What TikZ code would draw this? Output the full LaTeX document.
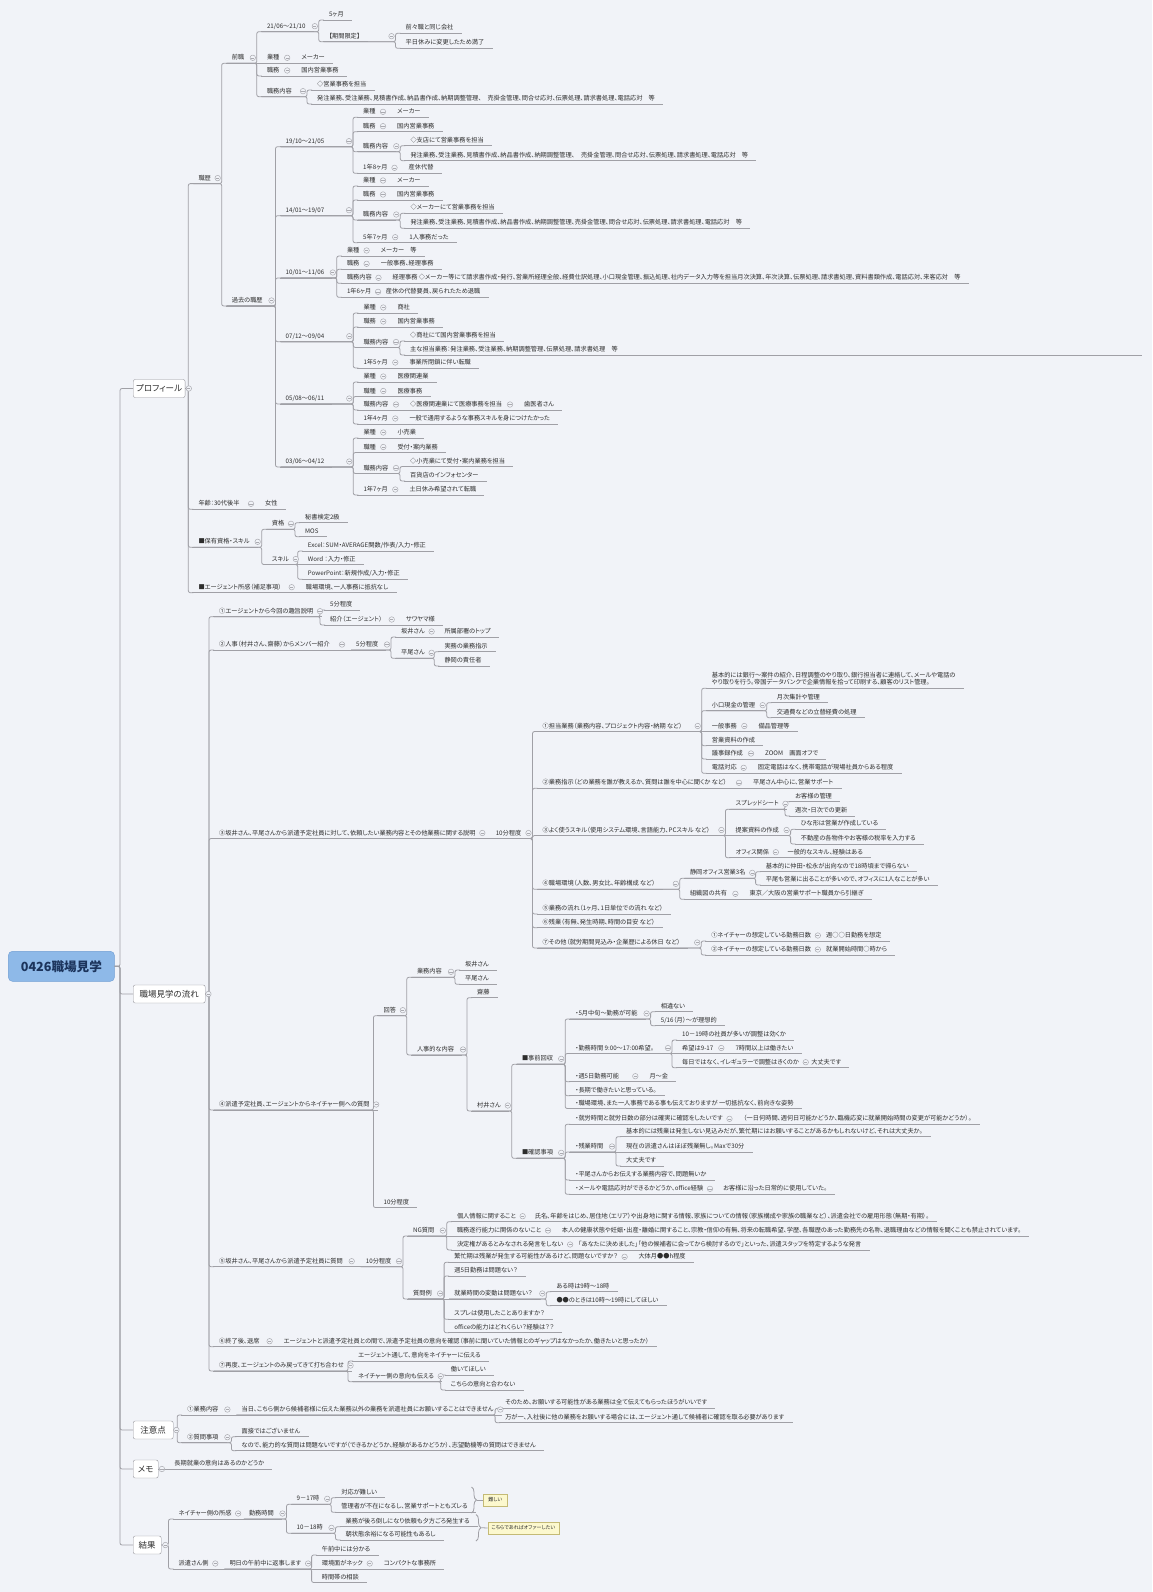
\documentclass[tikz,border=0pt]{standalone}
\usepackage{fontspec}
\setmainfont{Noto Sans CJK JP}[RawFeature=+palt]
\usetikzlibrary{calc,decorations.pathreplacing}

\definecolor{bgc}{RGB}{241,243,248}
\definecolor{linec}{RGB}{160,160,166}
\definecolor{textc}{RGB}{45,45,45}
\definecolor{boxc}{RGB}{150,150,156}
\definecolor{togc}{RGB}{170,170,176}
\definecolor{rootfill}{RGB}{142,185,232}
\definecolor{rootdraw}{RGB}{112,158,212}
\definecolor{roottext}{RGB}{28,52,92}
\definecolor{notefill}{RGB}{252,248,206}
\definecolor{notedraw}{RGB}{196,186,118}

% topic with underline
\newcommand{\mmnode}[5][]{\node[item,#1] (#2) at (#3,#4) {#5};
  \draw[uline] ([xshift=-6pt]#2.south west) -- ([xshift=8pt]#2.south east);}
% elbow link parent -> child
\newcommand{\mmlink}[2]{\draw[conn] ([xshift=-5pt]#1.south west) -| ([xshift=-10pt]#2.south west) -- ([xshift=-5pt]#2.south west);}
% straight link (same line)
\newcommand{\mmline}[2]{\draw[conn] ([xshift=-5pt]#1.south west) -- ([xshift=-5pt]#2.south west);}
% collapse mark, just before the children, never on the text
\newcommand{\mmtog}[2]{\path let \p1=(#1.south east), \p2=(#2.south west) in node[tog] at ({max(\x1+6.5pt,\x2-14pt)},{\y1+5.5pt}) {};}
% main topic box -> child
\newcommand{\mmbox}[2]{\draw[conn] (#1.east) -| ([xshift=-10pt]#2.south west) -- ([xshift=-5pt]#2.south west);}

\begin{document}
\begin{tikzpicture}[x=1pt, y=-1pt,
    item/.style={anchor=south west, inner xsep=0pt, inner ysep=2.2pt, text height=5pt, text depth=1pt, font=\fontsize{6.2}{7.7}\selectfont, text=textc},
    uline/.style={draw=linec, line width=0.8pt},
    conn/.style={draw=linec, line width=0.8pt, rounded corners=2pt},
    topic/.style={anchor=west, draw=boxc, fill=white, rounded corners=2pt, minimum height=18pt, inner xsep=3pt, font=\fontsize{8.5}{10}\selectfont, text=textc},
    root/.style={draw=rootdraw, fill=rootfill, rounded corners=4pt, minimum width=106pt, minimum height=30pt, font=\fontsize{12.6}{14}\selectfont\bfseries, text=roottext},
    tog/.style={circle, draw=togc, fill=bgc, line width=0.5pt, minimum size=5.5pt, inner sep=0pt,
        path picture={\draw[togc, line width=0.5pt] ([xshift=-1.6pt]path picture bounding box.center) -- ([xshift=1.6pt]path picture bounding box.center);}},
    sumbox/.style={draw=notedraw, fill=notefill, font=\fontsize{5}{6}\selectfont, text=textc, minimum height=12pt, inner xsep=2pt},
    brace/.style={decorate, decoration={brace, amplitude=5pt}, draw=linec, line width=0.8pt}
]
\fill[bgc] (0,0) rectangle (1152,1592);
\useasboundingbox (0,0) rectangle (1152,1592);

% root and main topics
\node[root] (root) at (61.4,966.3) {0426職場見学};
\node[topic, minimum width=49pt] (prof) at (133,388.5) {プロフィール};
\node[topic, minimum width=72pt] (flow) at (133,994) {職場見学の流れ};
\node[topic, minimum width=40pt] (note) at (133,1430) {注意点};
\node[topic, minimum width=25pt] (memo) at (133,1469) {メモ};
\node[topic, minimum width=28pt] (result) at (133,1545) {結果};
\draw[conn] (root.east) -| ([xshift=-13pt]prof.west) -- (prof.west);
\draw[conn] (root.east) -| ([xshift=-13pt]flow.west) -- (flow.west);
\draw[conn] (root.east) -| ([xshift=-13pt]note.west) -- (note.west);
\draw[conn] (root.east) -| ([xshift=-13pt]memo.west) -- (memo.west);
\draw[conn] (root.east) -| ([xshift=-13pt]result.west) -- (result.west);

% ---- profile
\mmnode{career}{198.3}{183.6}{職歴}
\mmnode{age}{198.3}{509.3}{年齢：30代後半}
\mmnode{skill}{198.3}{547.3}{■保有資格・スキル}
\mmnode{agent}{198.3}{592.7}{■エージェント所感（補足事項）}
\mmbox{prof}{career}\mmbox{prof}{age}\mmbox{prof}{skill}\mmbox{prof}{agent}

\mmnode{prev}{231.7}{63.3}{前職}
\mmnode{past}{231.7}{306}{過去の職歴}
\mmlink{career}{prev}\mmlink{career}{past}\mmtog{career}{prev}

% previous job
\mmnode{pvTerm}{266.8}{31.7}{21/06～21/10}
\mmnode{pvInd}{266.8}{63.3}{業種}
\mmnode{pvRole}{266.8}{76}{職務}
\mmnode{pvWork}{266.8}{96.7}{職務内容}
\mmlink{prev}{pvTerm}\mmline{prev}{pvInd}\mmlink{prev}{pvRole}\mmlink{prev}{pvWork}\mmtog{prev}{pvTerm}
\mmnode{pvLen}{328.8}{20}{5ヶ月}
\mmnode{pvLtd}{328.8}{41.7}{【期間限定】}
\mmlink{pvTerm}{pvLen}\mmlink{pvTerm}{pvLtd}\mmtog{pvTerm}{pvLen}
\mmnode{pvLtdA}{405.5}{33.3}{前々職と同じ会社}
\mmnode{pvLtdB}{405.5}{48.3}{平日休みに変更したため満了}
\mmlink{pvLtd}{pvLtdA}\mmlink{pvLtd}{pvLtdB}\mmtog{pvLtd}{pvLtdA}
\mmnode{pvIndA}{301.2}{63.3}{メーカー}
\mmline{pvInd}{pvIndA}\mmtog{pvInd}{pvIndA}
\mmnode{pvRoleA}{301.2}{76}{国内営業事務}
\mmline{pvRole}{pvRoleA}\mmtog{pvRole}{pvRoleA}
\mmnode{pvWorkA}{317}{90}{◇営業事務を担当}
\mmnode{pvWorkB}{317}{104}{発注業務、受注業務、見積書作成、納品書作成、納期調整管理、　売掛金管理、問合せ応対、伝票処理、請求書処理、電話応対　等}
\mmlink{pvWork}{pvWorkA}\mmlink{pvWork}{pvWorkB}\mmtog{pvWork}{pvWorkA}

% past jobs
\mmnode{jA}{285.5}{146.7}{19/10～21/05}
\mmnode{jB}{285.5}{215.7}{14/01～19/07}
\mmnode{jC}{285.5}{278}{10/01～11/06}
\mmnode{jD}{285.5}{341.7}{07/12～09/04}
\mmnode{jE}{285.5}{404}{05/08～06/11}
\mmnode{jF}{285.5}{467}{03/06～04/12}
\mmlink{past}{jA}\mmlink{past}{jB}\mmlink{past}{jC}\mmlink{past}{jD}\mmlink{past}{jE}\mmlink{past}{jF}\mmtog{past}{jA}

\mmnode{jAind}{363}{117.3}{業種}
\mmnode{jArole}{363}{131.7}{職務}
\mmnode{jAwork}{363}{151.7}{職務内容}
\mmnode{jAlen}{363}{173.3}{1年8ヶ月}
\mmlink{jA}{jAind}\mmlink{jA}{jArole}\mmlink{jA}{jAwork}\mmlink{jA}{jAlen}\mmtog{jA}{jAind}
\mmnode{jAindA}{397}{117.3}{メーカー}\mmline{jAind}{jAindA}\mmtog{jAind}{jAindA}
\mmnode{jAroleA}{397}{131.7}{国内営業事務}\mmline{jArole}{jAroleA}\mmtog{jArole}{jAroleA}
\mmnode{jAworkA}{410.3}{145.7}{◇支店にて営業事務を担当}
\mmnode{jAworkB}{410.3}{160.7}{発注業務、受注業務、見積書作成、納品書作成、納期調整管理、　売掛金管理、問合せ応対、伝票処理、請求書処理、電話応対　等}
\mmlink{jAwork}{jAworkA}\mmlink{jAwork}{jAworkB}\mmtog{jAwork}{jAworkA}
\mmnode{jAlenA}{408.5}{173.3}{産休代替}\mmline{jAlen}{jAlenA}\mmtog{jAlen}{jAlenA}

\mmnode{jBind}{363}{186}{業種}
\mmnode{jBrole}{363}{200}{職務}
\mmnode{jBwork}{363}{220}{職務内容}
\mmnode{jBlen}{363}{242.7}{5年7ヶ月}
\mmlink{jB}{jBind}\mmlink{jB}{jBrole}\mmlink{jB}{jBwork}\mmlink{jB}{jBlen}\mmtog{jB}{jBind}
\mmnode{jBindA}{397}{186}{メーカー}\mmline{jBind}{jBindA}\mmtog{jBind}{jBindA}
\mmnode{jBroleA}{397}{200}{国内営業事務}\mmline{jBrole}{jBroleA}\mmtog{jBrole}{jBroleA}
\mmnode{jBworkA}{410.3}{213.3}{◇メーカーにて営業事務を担当}
\mmnode{jBworkB}{410.3}{228.3}{発注業務、受注業務、見積書作成、納品書作成、納期調整管理、売掛金管理、問合せ応対、伝票処理、請求書処理、電話応対　等}
\mmlink{jBwork}{jBworkA}\mmlink{jBwork}{jBworkB}\mmtog{jBwork}{jBworkA}
\mmnode{jBlenA}{409.2}{242.7}{1人事務だった}\mmline{jBlen}{jBlenA}\mmtog{jBlen}{jBlenA}

\mmnode{jCind}{346.8}{256}{業種}
\mmnode{jCrole}{346.8}{269.3}{職務}
\mmnode{jCwork}{346.8}{283.3}{職務内容}
\mmnode{jClen}{346.8}{297.3}{1年6ヶ月}
\mmlink{jC}{jCind}\mmlink{jC}{jCrole}\mmlink{jC}{jCwork}\mmlink{jC}{jClen}\mmtog{jC}{jCind}
\mmnode{jCindA}{380.6}{256}{メーカー　等}\mmline{jCind}{jCindA}\mmtog{jCind}{jCindA}
\mmnode{jCroleA}{380.6}{269.3}{一般事務、経理事務}\mmline{jCrole}{jCroleA}\mmtog{jCrole}{jCroleA}
\mmnode{jCworkA}{392.5}{283.3}{経理事務 ◇メーカー等にて請求書作成・発行、営業所経理全般、経費仕訳処理、小口現金管理、振込処理、社内データ入力等を担当月次決算、年次決算、伝票処理、請求書処理、資料書類作成、電話応対、来客応対　等}
\mmline{jCwork}{jCworkA}\mmtog{jCwork}{jCworkA}
\mmnode{jClenA}{385.7}{297.3}{産休の代替要員、戻られたため退職}\mmline{jClen}{jClenA}\mmtog{jClen}{jClenA}

\mmnode{jDind}{363.3}{313}{業種}
\mmnode{jDrole}{363.3}{327}{職務}
\mmnode{jDwork}{363.3}{347.5}{職務内容}
\mmnode{jDlen}{363.3}{368}{1年5ヶ月}
\mmlink{jD}{jDind}\mmlink{jD}{jDrole}\mmlink{jD}{jDwork}\mmlink{jD}{jDlen}\mmtog{jD}{jDind}
\mmnode{jDindA}{397.3}{313}{商社}\mmline{jDind}{jDindA}\mmtog{jDind}{jDindA}
\mmnode{jDroleA}{397.3}{327}{国内営業事務}\mmline{jDrole}{jDroleA}\mmtog{jDrole}{jDroleA}
\mmnode{jDworkA}{410}{341}{◇商社にて国内営業事務を担当}
\mmnode{jDworkB}{410}{355}{主な担当業務：発注業務、受注業務、納期調整管理、伝票処理、請求書処理　等}
\draw[uline] (jDworkB.south east) -- (1142,355);
\mmlink{jDwork}{jDworkA}\mmlink{jDwork}{jDworkB}\mmtog{jDwork}{jDworkA}
\mmnode{jDlenA}{409.3}{368}{事業所閉鎖に伴い転職}\mmline{jDlen}{jDlenA}\mmtog{jDlen}{jDlenA}

\mmnode{jEind}{363.3}{382}{業種}
\mmnode{jErole}{363.3}{396.5}{職種}
\mmnode{jEwork}{363.3}{410}{職務内容}
\mmnode{jElen}{363.3}{424}{1年4ヶ月}
\mmlink{jE}{jEind}\mmlink{jE}{jErole}\mmlink{jE}{jEwork}\mmlink{jE}{jElen}\mmtog{jE}{jEind}
\mmnode{jEindA}{397.3}{382}{医療関連業}\mmline{jEind}{jEindA}\mmtog{jEind}{jEindA}
\mmnode{jEroleA}{397.3}{396.5}{医療事務}\mmline{jErole}{jEroleA}\mmtog{jErole}{jEroleA}
\mmnode{jEworkA}{410}{410}{◇医療関連業にて医療事務を担当}\mmline{jEwork}{jEworkA}\mmtog{jEwork}{jEworkA}
\mmnode{jEworkAA}{524}{410}{歯医者さん}\mmline{jEworkA}{jEworkAA}\mmtog{jEworkA}{jEworkAA}
\mmnode{jElenA}{409.3}{424}{一般で通用するような事務スキルを身につけたかった}\mmline{jElen}{jElenA}\mmtog{jElen}{jElenA}

\mmnode{jFind}{363.3}{438}{業種}
\mmnode{jFrole}{363.3}{452.5}{職種}
\mmnode{jFwork}{363.3}{473.5}{職務内容}
\mmnode{jFlen}{363.3}{495}{1年7ヶ月}
\mmlink{jF}{jFind}\mmlink{jF}{jFrole}\mmlink{jF}{jFwork}\mmlink{jF}{jFlen}\mmtog{jF}{jFind}
\mmnode{jFindA}{397.3}{438}{小売業}\mmline{jFind}{jFindA}\mmtog{jFind}{jFindA}
\mmnode{jFroleA}{397.3}{452.5}{受付・案内業務}\mmline{jFrole}{jFroleA}\mmtog{jFrole}{jFroleA}
\mmnode{jFworkA}{410}{466.5}{◇小売業にて受付・案内業務を担当}
\mmnode{jFworkB}{410}{481}{百貨店のインフォセンター}
\mmlink{jFwork}{jFworkA}\mmlink{jFwork}{jFworkB}\mmtog{jFwork}{jFworkA}
\mmnode{jFlenA}{409.3}{495}{土日休み希望されて転職}\mmline{jFlen}{jFlenA}\mmtog{jFlen}{jFlenA}

% age, skills, agent
\mmnode{ageA}{265}{509.3}{女性}\mmline{age}{ageA}\mmtog{age}{ageA}
\mmnode{qual}{271.7}{529.3}{資格}
\mmnode{sk}{271.7}{564.5}{スキル}
\mmlink{skill}{qual}\mmlink{skill}{sk}\mmtog{skill}{qual}
\mmnode{qualA}{305}{522.7}{秘書検定2級}
\mmnode{qualB}{305}{536.7}{MOS}
\mmlink{qual}{qualA}\mmlink{qual}{qualB}\mmtog{qual}{qualA}
\mmnode{skA}{307.7}{551}{Excel：SUM・AVERAGE関数/作表/入力・修正}
\mmnode{skB}{307.7}{564.5}{Word ：入力・修正}
\mmnode{skC}{307.7}{579.3}{PowerPoint：新規作成/入力・修正}
\mmlink{sk}{skA}\mmline{sk}{skB}\mmlink{sk}{skC}\mmtog{sk}{skA}
\mmnode{agentA}{305.7}{592.7}{職場環境、一人事務に抵抗なし}\mmline{agent}{agentA}\mmtog{agent}{agentA}

% ---- flow of the visit
\mmnode{fIntro}{219}{616.7}{①エージェントから今回の趣旨説明}
\mmnode{fMember}{219}{650}{②人事（村井さん、齋藤）からメンバー紹介}
\mmnode{fExplain}{219}{838.5}{③坂井さん、平尾さんから派遣予定社員に対して、依頼したい業務内容とその他業務に関する説明}
\mmnode{fAnswer}{219}{1110}{④派遣予定社員、エージェントからネイチャー側への質問}
\mmnode{fAsk}{219}{1266.7}{⑤坂井さん、平尾さんから派遣予定社員に質問}
\mmnode{fEnd}{219}{1346.7}{⑥終了後、退席}
\mmnode{fMeet}{219}{1371}{⑦再度、エージェントのみ戻ってきて打ち合わせ}
\mmbox{flow}{fIntro}\mmbox{flow}{fMember}\mmbox{flow}{fExplain}\mmbox{flow}{fAnswer}\mmbox{flow}{fAsk}\mmbox{flow}{fEnd}\mmbox{flow}{fMeet}

\mmnode{fIntroA}{330}{610}{5分程度}
\mmnode{fIntroB}{330}{625}{紹介（エージェント）}
\mmlink{fIntro}{fIntroA}\mmlink{fIntro}{fIntroB}\mmtog{fIntro}{fIntroA}
\mmnode{fIntroBA}{405.7}{625}{サワヤマ様}\mmline{fIntroB}{fIntroBA}\mmtog{fIntroB}{fIntroBA}

\mmnode{fMemberA}{356}{650}{5分程度}\mmline{fMember}{fMemberA}\mmtog{fMember}{fMemberA}
\mmnode{fSakai}{401}{637}{坂井さん}
\mmnode{fHirao}{401}{658.3}{平尾さん}
\mmlink{fMemberA}{fSakai}\mmlink{fMemberA}{fHirao}\mmtog{fMemberA}{fSakai}
\mmnode{fSakaiA}{444.3}{637}{所属部署のトップ}\mmline{fSakai}{fSakaiA}\mmtog{fSakai}{fSakaiA}
\mmnode{fHiraoA}{444.3}{651.7}{実務の業務指示}
\mmnode{fHiraoB}{444.3}{666}{静岡の責任者}
\mmlink{fHirao}{fHiraoA}\mmlink{fHirao}{fHiraoB}\mmtog{fHirao}{fHiraoA}

\mmnode{fExplainA}{495.6}{838.5}{10分程度}\mmline{fExplain}{fExplainA}\mmtog{fExplain}{fExplainA}
\mmnode{gA}{542.5}{731.5}{①担当業務（業務内容、プロジェクト内容・納期 など）}
\mmnode{gB}{542.5}{788.3}{②業務指示（どの業務を誰が教えるか、質問は誰を中心に聞くか など）}
\mmnode{gC}{542.5}{835.5}{③よく使うスキル（使用システム環境、言語能力、PCスキル など）}
\mmnode{gD}{542.5}{889.3}{④職場環境（人数、男女比、年齢構成 など）}
\mmnode{gE}{542.5}{914}{⑤業務の流れ（1ヶ月、1日単位での流れ など）}
\mmnode{gF}{542.5}{927.7}{⑥残業（有無、発生時期、時間の目安 など）}
\mmnode{gG}{542.5}{948}{⑦その他（就労期間見込み・企業歴による休日 など）}
\mmlink{fExplainA}{gA}\mmlink{fExplainA}{gB}\mmlink{fExplainA}{gC}\mmlink{fExplainA}{gD}\mmlink{fExplainA}{gE}\mmlink{fExplainA}{gF}\mmlink{fExplainA}{gG}\mmtog{fExplainA}{gA}

\mmnode{gAa}{711.7}{688.3}{\begin{tabular}[b]{@{}l@{}}基本的には銀行～案件の紹介、日程調整のやり取り、銀行担当者に連絡して、メールや電話の\\やり取りを行う。帝国データバンクで企業情報を拾って印刷する、顧客のリスト管理。\end{tabular}}
\mmnode{gAb}{711.7}{710.7}{小口現金の管理}
\mmnode{gAc}{711.7}{731.5}{一般事務}
\mmnode{gAd}{711.7}{745.7}{営業資料の作成}
\mmnode{gAe}{711.7}{759}{議事録作成}
\mmnode{gAf}{711.7}{773.3}{電話対応}
\mmlink{gA}{gAa}\mmlink{gA}{gAb}\mmline{gA}{gAc}\mmlink{gA}{gAd}\mmlink{gA}{gAe}\mmlink{gA}{gAf}\mmtog{gA}{gAa}
\mmnode{gAbA}{776.7}{702.7}{月次集計や管理}
\mmnode{gAbB}{776.7}{717.7}{交通費などの立替経費の処理}
\mmlink{gAb}{gAbA}\mmlink{gAb}{gAbB}\mmtog{gAb}{gAbA}
\mmnode{gAcA}{758.3}{731.5}{備品管理等}\mmline{gAc}{gAcA}\mmtog{gAc}{gAcA}
\mmnode{gAeA}{765}{759}{ZOOM　画面オフで}\mmline{gAe}{gAeA}\mmtog{gAe}{gAeA}
\mmnode{gAfA}{757.7}{773.3}{固定電話はなく、携帯電話が現場社員からある程度}\mmline{gAf}{gAfA}\mmtog{gAf}{gAfA}

\mmnode{gBA}{753}{788.3}{平尾さん中心に、営業サポート}\mmline{gB}{gBA}\mmtog{gB}{gBA}

\mmnode{gCa}{735.4}{809.3}{スプレッドシート}
\mmnode{gCb}{735.4}{835.5}{提案資料の作成}
\mmnode{gCc}{735.4}{857.7}{オフィス関係}
\mmlink{gC}{gCa}\mmline{gC}{gCb}\mmlink{gC}{gCc}\mmtog{gC}{gCa}
\mmnode{gCaA}{795}{801.7}{お客様の管理}
\mmnode{gCaB}{795}{816}{週次・日次での更新}
\mmlink{gCa}{gCaA}\mmlink{gCa}{gCaB}\mmtog{gCa}{gCaA}
\mmnode{gCbA}{800.6}{829.3}{ひな形は営業が作成している}
\mmnode{gCbB}{800.6}{844}{不動産の各物件やお客様の税率を入力する}
\mmlink{gCb}{gCbA}\mmlink{gCb}{gCbB}\mmtog{gCb}{gCbA}
\mmnode{gCcA}{787.5}{857.7}{一般的なスキル、経験はある}\mmline{gCc}{gCcA}\mmtog{gCc}{gCcA}

\mmnode{gDa}{689.8}{878.3}{静岡オフィス営業3名}
\mmnode{gDb}{689.8}{899.3}{組織図の共有}
\mmlink{gD}{gDa}\mmlink{gD}{gDb}\mmtog{gD}{gDa}
\mmnode{gDaA}{765.6}{871.7}{基本的に仲田・松永が出向なので18時頃まで帰らない}
\mmnode{gDaB}{765.6}{885}{平尾も営業に出ることが多いので、オフィスに1人なことが多い}
\mmlink{gDa}{gDaA}\mmlink{gDa}{gDaB}\mmtog{gDa}{gDaA}
\mmnode{gDbA}{749.4}{899.3}{東京／大阪の営業サポート職員から引継ぎ}\mmline{gDb}{gDbA}\mmtog{gDb}{gDbA}

\mmnode{gGa}{711.2}{941}{①ネイチャーの想定している勤務日数}
\mmnode{gGb}{711.2}{955}{②ネイチャーの想定している勤務日数}
\mmlink{gG}{gGa}\mmlink{gG}{gGb}\mmtog{gG}{gGa}
\mmnode{gGaA}{826}{941}{週○○日勤務を想定}\mmline{gGa}{gGaA}\mmtog{gGa}{gGaA}
\mmnode{gGbA}{826}{955}{就業開始時間○時から}\mmline{gGb}{gGbA}\mmtog{gGb}{gGbA}

% questions to the company
\mmnode{hAns}{383.4}{1015.7}{回答}
\mmnode{hTime}{383.4}{1207.5}{10分程度}
\mmlink{fAnswer}{hAns}\mmlink{fAnswer}{hTime}\mmtog{fAnswer}{hAns}
\mmnode{hWork}{416.8}{977.3}{業務内容}
\mmnode{hHr}{416.8}{1055}{人事的な内容}
\mmlink{hAns}{hWork}\mmlink{hAns}{hHr}\mmtog{hAns}{hWork}
\mmnode{hWorkA}{465}{970}{坂井さん}
\mmnode{hWorkB}{465}{984.3}{平尾さん}
\mmlink{hWork}{hWorkA}\mmlink{hWork}{hWorkB}\mmtog{hWork}{hWorkA}
\mmnode{hSaito}{477}{997.7}{齋藤}
\mmnode{hMurai}{477}{1111}{村井さん}
\mmlink{hHr}{hSaito}\mmlink{hHr}{hMurai}\mmtog{hHr}{hSaito}
\mmnode{kPre}{521.8}{1064.3}{■事前回収}
\mmnode{kChk}{521.8}{1158.3}{■確認事項}
\mmlink{hMurai}{kPre}\mmlink{hMurai}{kChk}\mmtog{hMurai}{kPre}

\mmnode{kPa}{575.2}{1019}{・5月中旬～勤務が可能}
\mmnode{kPb}{575.2}{1053.5}{・勤務時間 9:00～17:00希望。}
\mmnode{kPc}{575.2}{1081.7}{・週5日勤務可能}
\mmnode{kPd}{575.2}{1095.7}{・長期で働きたいと思っている。}
\mmnode{kPe}{575.2}{1108.5}{・職場環境、また一人事務である事も伝えておりますが 一切抵抗なく、前向きな姿勢}
\mmlink{kPre}{kPa}\mmlink{kPre}{kPb}\mmlink{kPre}{kPc}\mmlink{kPre}{kPd}\mmlink{kPre}{kPe}\mmtog{kPre}{kPa}
\mmnode{kPaA}{660.6}{1011.7}{相違ない}
\mmnode{kPaB}{660.6}{1025.7}{5/16（月）～が理想的}
\mmlink{kPa}{kPaA}\mmlink{kPa}{kPaB}\mmtog{kPa}{kPaA}
\mmnode{kPbA}{682}{1040}{10－19時の社員が多いが調整は効くか}
\mmnode{kPbB}{682}{1053.5}{希望は9-17}
\mmnode{kPbC}{682}{1067.7}{毎日ではなく、イレギュラーで調整はきくのか}
\mmlink{kPb}{kPbA}\mmline{kPb}{kPbB}\mmlink{kPb}{kPbC}\mmtog{kPb}{kPbA}
\mmnode{kPbBA}{735.3}{1053.5}{7時間以上は働きたい}\mmline{kPbB}{kPbBA}\mmtog{kPbB}{kPbBA}
\mmnode{kPbCA}{811.1}{1067.7}{大丈夫です}\mmline{kPbC}{kPbCA}\mmtog{kPbC}{kPbCA}
\mmnode{kPcA}{649.3}{1081.7}{月～金}\mmline{kPc}{kPcA}\mmtog{kPc}{kPcA}

\mmnode{kCa}{575.2}{1124.3}{・就労時間と就労日数の部分は確実に確認をしたいです}
\mmnode{kCb}{575.2}{1152}{・残業時間}
\mmnode{kCc}{575.2}{1180}{・平尾さんからお伝えする業務内容で、問題無いか}
\mmnode{kCd}{575.2}{1194.3}{・メールや電話応対ができるかどうか、office経験}
\mmlink{kChk}{kCa}\mmlink{kChk}{kCb}\mmlink{kChk}{kCc}\mmlink{kChk}{kCd}\mmtog{kChk}{kCa}
\mmnode{kCaA}{743.4}{1124.3}{（一日何時間、週何日可能かどうか、臨機応変に就業開始時間の変更が可能かどうか）。}\mmline{kCa}{kCaA}\mmtog{kCa}{kCaA}
\mmnode{kCbA}{626}{1136.7}{基本的には残業は発生しない見込みだが、繁忙期にはお願いすることがあるかもしれないけど、それは大丈夫か。}
\mmnode{kCbB}{626}{1152}{現在の派遣さんはほぼ残業無し。Maxで30分}
\mmnode{kCbC}{626}{1166}{大丈夫です}
\mmlink{kCb}{kCbA}\mmline{kCb}{kCbB}\mmlink{kCb}{kCbC}\mmtog{kCb}{kCbA}
\mmnode{kCdA}{723}{1194.3}{お客様に沿った日常的に使用していた。}\mmline{kCd}{kCdA}\mmtog{kCd}{kCdA}

% questions to the candidate
\mmnode{fAskA}{365.7}{1266.7}{10分程度}\mmline{fAsk}{fAskA}\mmtog{fAsk}{fAskA}
\mmnode{mNG}{413}{1236}{NG質問}
\mmnode{mEx}{413}{1299}{質問例}
\mmlink{fAskA}{mNG}\mmlink{fAskA}{mEx}\mmtog{fAskA}{mNG}
\mmnode{mNGa}{456.8}{1221.7}{個人情報に関すること}
\mmnode{mNGb}{456.8}{1236}{職務遂行能力に関係のないこと}
\mmnode{mNGc}{456.8}{1250}{決定権があるとみなされる発言をしない}
\mmlink{mNG}{mNGa}\mmline{mNG}{mNGb}\mmlink{mNG}{mNGc}\mmtog{mNG}{mNGa}
\mmnode{mNGaA}{534.6}{1221.7}{氏名、年齢をはじめ、居住地（エリア）や出身地に関する情報、家族についての情報（家族構成や家族の職業など）、派遣会社での雇用形態（無期・有期）。}\mmline{mNGa}{mNGaA}\mmtog{mNGa}{mNGaA}
\mmnode{mNGbA}{561.6}{1236}{本人の健康状態や妊娠・出産・離婚に関すること、宗教・信仰の有無、将来の転職希望、学歴、各職歴のあった勤務先の名称、退職理由などの情報を聞くことも禁止されています。}\mmline{mNGb}{mNGbA}\mmtog{mNGb}{mNGbA}
\mmnode{mNGcA}{578.5}{1250}{「あなたに決めました」「他の候補者に会ってから検討するので」といった、派遣スタッフを特定するような発言}\mmline{mNGc}{mNGcA}\mmtog{mNGc}{mNGcA}
\mmnode{mExA}{454.1}{1262.3}{繁忙期は残業が発生する可能性があるけど、問題ないですか？}
\mmnode{mExB}{454.1}{1276}{週5日勤務は問題ない？}
\mmnode{mExC}{454.1}{1299}{就業時間の変動は問題ない？}
\mmnode{mExD}{454.1}{1319.3}{スプレは使用したことありますか？}
\mmnode{mExE}{454.1}{1332.7}{officeの能力はどれくらい？経験は？？}
\mmlink{mEx}{mExA}\mmlink{mEx}{mExB}\mmline{mEx}{mExC}\mmlink{mEx}{mExD}\mmlink{mEx}{mExE}\mmtog{mEx}{mExA}
\mmnode{mExAA}{638.3}{1262.3}{大体月●●h程度}\mmline{mExA}{mExAA}\mmtog{mExA}{mExAA}
\mmnode{mExCA}{556.3}{1291.7}{ある時は9時～18時}
\mmnode{mExCB}{556.3}{1305.7}{●●のときは10時～19時にしてほしい}
\mmlink{mExC}{mExCA}\mmlink{mExC}{mExCB}\mmtog{mExC}{mExCA}

\mmnode{fEndA}{283.6}{1346.7}{エージェントと派遣予定社員との間で、派遣予定社員の意向を確認（事前に聞いていた情報とのギャップはなかったか、働きたいと思ったか）}
\mmline{fEnd}{fEndA}\mmtog{fEnd}{fEndA}
\mmnode{fMeetA}{358}{1361}{エージェント通して、意向をネイチャーに伝える}
\mmnode{fMeetB}{358}{1381.7}{ネイチャー側の意向も伝える}
\mmlink{fMeet}{fMeetA}\mmlink{fMeet}{fMeetB}\mmtog{fMeet}{fMeetA}
\mmnode{fMeetBA}{450.7}{1375}{働いてほしい}
\mmnode{fMeetBB}{450.7}{1390}{こちらの意向と合わない}
\mmlink{fMeetB}{fMeetBA}\mmlink{fMeetB}{fMeetBB}\mmtog{fMeetB}{fMeetBA}

% ---- notes
\mmnode{cJob}{187.2}{1415}{①業務内容}
\mmnode{cQ}{187.2}{1442.7}{②質問事項}
\mmbox{note}{cJob}\mmbox{note}{cQ}
\mmnode{cJobA}{241.4}{1415}{当日、こちら側から候補者様に伝えた業務以外の業務を派遣社員にお願いすることはできません}\mmline{cJob}{cJobA}\mmtog{cJob}{cJobA}
\mmnode{cJobAa}{505.1}{1408.3}{そのため、お願いする可能性がある業務は全て伝えてもらったほうがいいです}
\mmnode{cJobAb}{505.1}{1422.7}{万が一、入社後に他の業務をお願いする場合には、エージェント通して候補者に確認を取る必要があります}
\mmlink{cJobA}{cJobAa}\mmlink{cJobA}{cJobAb}\mmtog{cJobA}{cJobAa}
\mmnode{cQa}{241.4}{1436.7}{面接ではございません}
\mmnode{cQb}{241.4}{1450.7}{なので、能力的な質問は問題ないですが（できるかどうか、経験があるかどうか）、志望動機等の質問はできません}
\mmlink{cQ}{cQa}\mmlink{cQ}{cQb}\mmtog{cQ}{cQa}

% ---- memo
\mmnode{memoA}{174.2}{1469}{長期就業の意向はあるのかどうか}
\draw[conn] (memo.east) -- ([xshift=-5pt]memoA.south west);

% ---- result
\mmnode{rN}{178.5}{1519}{ネイチャー側の所感}
\mmnode{rH}{178.5}{1569}{派遣さん側}
\mmbox{result}{rN}\mmbox{result}{rH}
\mmnode{rNa}{248.8}{1519}{勤務時間}\mmline{rN}{rNa}\mmtog{rN}{rNa}
\mmnode{rN1}{296.5}{1504.3}{9－17時}
\mmnode{rN2}{296.5}{1533.3}{10－18時}
\mmlink{rNa}{rN1}\mmlink{rNa}{rN2}\mmtog{rNa}{rN1}
\mmnode{rN1a}{341.2}{1497.7}{対応が難しい}
\mmnode{rN1b}{341.2}{1512.3}{管理者が不在になるし、営業サポートともズレる}
\mmlink{rN1}{rN1a}\mmlink{rN1}{rN1b}\mmtog{rN1}{rN1a}
\mmnode{rN2a}{345.5}{1526.7}{業務が後ろ倒しになり依頼も夕方ごろ発生する}
\mmnode{rN2b}{345.5}{1540}{朝状態余裕になる可能性もあるし}
\mmlink{rN2}{rN2a}\mmlink{rN2}{rN2b}\mmtog{rN2}{rN2a}
\mmnode{rHa}{229.3}{1569}{明日の午前中に返事します}\mmline{rH}{rHa}\mmtog{rH}{rHa}
\mmnode{rHa1}{321.6}{1555}{午前中には分かる}
\mmnode{rHa2}{321.6}{1569}{環境面がネック}
\mmnode{rHa3}{321.6}{1582.5}{時間帯の相談}
\mmlink{rHa}{rHa1}\mmline{rHa}{rHa2}\mmlink{rHa}{rHa3}\mmtog{rHa}{rHa1}
\mmnode{rHa2A}{383.7}{1569}{コンパクトな事務所}\mmline{rHa2}{rHa2A}\mmtog{rHa2}{rHa2A}

% summaries
\draw[brace] (471.5,1487) -- (471.5,1513);
\coordinate (brA) at (477,1500);
\node[sumbox, minimum width=24pt] (sumA) at (495.3,1500) {難しい};
\draw[conn] (brA) -- (sumA.west);
\draw[brace] (476,1514.5) -- (476,1541);
\coordinate (brB) at (481.5,1527.7);
\node[sumbox, minimum width=71pt] (sumB) at (523.3,1528) {こちらであればオファーしたい};
\draw[conn] (brB) -- (sumB.west);

% collapse marks of main topics
\node[tog] at ($(prof.east)+(3.5,0)$) {};
\node[tog] at ($(flow.east)+(3,0)$) {};
\node[tog] at ($(note.east)+(3,0)$) {};
\node[tog] at ($(memo.east)+(3.5,0)$) {};
\node[tog] at ($(result.east)+(4,0)$) {};
\end{tikzpicture}
\end{document}
